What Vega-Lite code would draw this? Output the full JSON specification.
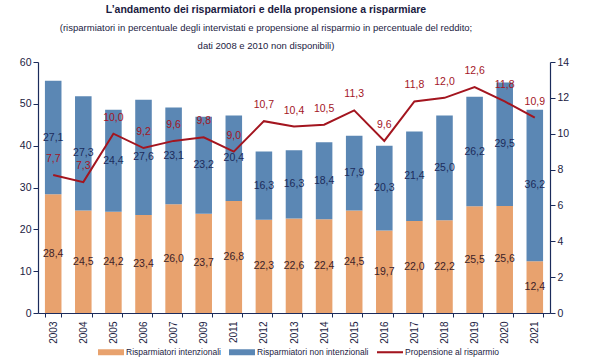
{
  "$schema": "https://vega.github.io/schema/vega-lite/v6.json",
  "width": 512,
  "height": 251,
  "autosize": {"type": "none"},
  "padding": {"left": 38, "top": 62, "right": 50, "bottom": 47},
  "background": "white",
  "title": {
    "text": "L’andamento dei risparmiatori e della propensione a risparmiare",
    "subtitle": ["(risparmiatori in percentuale degli intervistati e propensione al risparmio in percentuale del reddito;", "dati 2008 e 2010 non disponibili)"],
    "anchor": "middle",
    "frame": "group",
    "dx": -28,
    "offset": 7,
    "font": "Liberation Sans",
    "fontSize": 10.5,
    "fontWeight": "bold",
    "color": "#1b1b3f",
    "subtitleFont": "Liberation Sans",
    "subtitleFontSize": 9.5,
    "subtitleColor": "#1b1b3f",
    "subtitlePadding": 7,
    "subtitleLineHeight": 18
  },
  "datasets": {
    "barre": [
      {"anno": "2003", "serie": "Risparmiatori intenzionali", "valore": 28.4},
      {"anno": "2003", "serie": "Risparmiatori non intenzionali", "valore": 27.1},
      {"anno": "2004", "serie": "Risparmiatori intenzionali", "valore": 24.5},
      {"anno": "2004", "serie": "Risparmiatori non intenzionali", "valore": 27.3},
      {"anno": "2005", "serie": "Risparmiatori intenzionali", "valore": 24.2},
      {"anno": "2005", "serie": "Risparmiatori non intenzionali", "valore": 24.4},
      {"anno": "2006", "serie": "Risparmiatori intenzionali", "valore": 23.4},
      {"anno": "2006", "serie": "Risparmiatori non intenzionali", "valore": 27.6},
      {"anno": "2007", "serie": "Risparmiatori intenzionali", "valore": 26.0},
      {"anno": "2007", "serie": "Risparmiatori non intenzionali", "valore": 23.1},
      {"anno": "2009", "serie": "Risparmiatori intenzionali", "valore": 23.7},
      {"anno": "2009", "serie": "Risparmiatori non intenzionali", "valore": 23.2},
      {"anno": "2011", "serie": "Risparmiatori intenzionali", "valore": 26.8},
      {"anno": "2011", "serie": "Risparmiatori non intenzionali", "valore": 20.4},
      {"anno": "2012", "serie": "Risparmiatori intenzionali", "valore": 22.3},
      {"anno": "2012", "serie": "Risparmiatori non intenzionali", "valore": 16.3},
      {"anno": "2013", "serie": "Risparmiatori intenzionali", "valore": 22.6},
      {"anno": "2013", "serie": "Risparmiatori non intenzionali", "valore": 16.3},
      {"anno": "2014", "serie": "Risparmiatori intenzionali", "valore": 22.4},
      {"anno": "2014", "serie": "Risparmiatori non intenzionali", "valore": 18.4},
      {"anno": "2015", "serie": "Risparmiatori intenzionali", "valore": 24.5},
      {"anno": "2015", "serie": "Risparmiatori non intenzionali", "valore": 17.9},
      {"anno": "2016", "serie": "Risparmiatori intenzionali", "valore": 19.7},
      {"anno": "2016", "serie": "Risparmiatori non intenzionali", "valore": 20.3},
      {"anno": "2017", "serie": "Risparmiatori intenzionali", "valore": 22.0},
      {"anno": "2017", "serie": "Risparmiatori non intenzionali", "valore": 21.4},
      {"anno": "2018", "serie": "Risparmiatori intenzionali", "valore": 22.2},
      {"anno": "2018", "serie": "Risparmiatori non intenzionali", "valore": 25.0},
      {"anno": "2019", "serie": "Risparmiatori intenzionali", "valore": 25.5},
      {"anno": "2019", "serie": "Risparmiatori non intenzionali", "valore": 26.2},
      {"anno": "2020", "serie": "Risparmiatori intenzionali", "valore": 25.6},
      {"anno": "2020", "serie": "Risparmiatori non intenzionali", "valore": 29.5},
      {"anno": "2021", "serie": "Risparmiatori intenzionali", "valore": 12.4},
      {"anno": "2021", "serie": "Risparmiatori non intenzionali", "valore": 36.2}
    ],
    "linea": [
      {"anno": "2003", "propensione": 7.7},
      {"anno": "2004", "propensione": 7.3},
      {"anno": "2005", "propensione": 10.0},
      {"anno": "2006", "propensione": 9.2},
      {"anno": "2007", "propensione": 9.6},
      {"anno": "2009", "propensione": 9.8},
      {"anno": "2011", "propensione": 9.0},
      {"anno": "2012", "propensione": 10.7},
      {"anno": "2013", "propensione": 10.4},
      {"anno": "2014", "propensione": 10.5},
      {"anno": "2015", "propensione": 11.3},
      {"anno": "2016", "propensione": 9.6},
      {"anno": "2017", "propensione": 11.8},
      {"anno": "2018", "propensione": 12.0},
      {"anno": "2019", "propensione": 12.6},
      {"anno": "2020", "propensione": 11.8},
      {"anno": "2021", "propensione": 10.9}
    ]
  },
  "encoding": {
    "x": {
      "field": "anno",
      "type": "nominal",
      "sort": null,
      "scale": {"paddingInner": 0.45, "paddingOuter": 0.23},
      "axis": {
        "title": null,
        "labelAngle": -90,
        "labelFontSize": 10,
        "labelPadding": 4,
        "tickBand": "extent",
        "tickSize": 4
      }
    }
  },
  "layer": [
    {
      "data": {"name": "barre"},
      "layer": [
        {
          "mark": {"type": "bar"},
          "encoding": {
            "y": {
              "field": "valore",
              "type": "quantitative",
              "stack": "zero",
              "scale": {"domain": [0, 60]},
              "axis": {"orient": "left", "title": null, "values": [0, 10, 20, 30, 40, 50, 60], "tickSize": 5}
            },
            "order": {"field": "serie", "sort": "ascending"},
            "color": {
              "field": "serie",
              "type": "nominal",
              "scale": {
                "domain": ["Risparmiatori intenzionali", "Risparmiatori non intenzionali", "Propensione al risparmio"],
                "range": ["#E8A26E", "#5B87B4", "#A3151F"]
              },
              "legend": {
                "title": null,
                "orient": "none",
                "legendX": 60,
                "legendY": 277,
                "direction": "horizontal",
                "symbolSize": 676,
                "labelFontSize": 8.5,
                "labelOffset": 2,
                "columnPadding": 8,
                "encode": {
                  "symbols": {
                    "update": {
                      "shape": {"signal": "datum.value === 'Propensione al risparmio' ? 'M-1,-0.08H1V0.08H-1Z' : 'M-1,-0.23H1V0.23H-1Z'"},
                      "fill": {"scale": "color", "field": "value"},
                      "stroke": {"value": "transparent"},
                      "strokeWidth": {"value": 0},
                      "opacity": {"value": 1}
                    }
                  }
                }
              }
            }
          }
        },
        {
          "transform": [
            {"stack": "valore", "groupby": ["anno"], "sort": [{"field": "serie"}], "as": ["y0", "y1"]},
            {"calculate": "(datum.y0 + datum.y1) / 2", "as": "ymid"}
          ],
          "mark": {"type": "text", "fontSize": 10.5},
          "encoding": {
            "y": {"field": "ymid", "type": "quantitative"},
            "text": {"field": "valore", "type": "quantitative", "format": ".1f"},
            "color": {
              "condition": {"test": "datum.serie === 'Risparmiatori intenzionali'", "value": "#3a1d29"},
              "value": "#1b2b5b"
            }
          }
        }
      ]
    },
    {
      "data": {"name": "linea"},
      "encoding": {
        "y": {
          "field": "propensione",
          "type": "quantitative",
          "scale": {"domain": [0, 14]},
          "axis": {"orient": "right", "title": null, "values": [0, 2, 4, 6, 8, 10, 12, 14], "tickSize": 5}
        }
      },
      "layer": [
        {
          "mark": {"type": "line", "strokeWidth": 2},
          "encoding": {
            "color": {"datum": "Propensione al risparmio"}
          }
        },
        {
          "mark": {"type": "text", "fontSize": 10.5, "dy": -16, "color": "#A3151F"},
          "encoding": {
            "text": {"field": "propensione", "type": "quantitative", "format": ".1f"}
          }
        }
      ]
    }
  ],
  "resolve": {"scale": {"y": "independent"}},
  "config": {
    "locale": {"number": {"decimal": ",", "thousands": ".", "grouping": [3], "currency": ["€", ""]}},
    "font": "Liberation Sans",
    "view": {"stroke": null},
    "axis": {
      "grid": false,
      "domainColor": "#1b2b5b",
      "tickColor": "#1b2b5b",
      "labelColor": "#1b1b3f",
      "labelFont": "Liberation Sans",
      "labelFontSize": 10.5,
      "labelOverlap": false,
      "domainWidth": 1.2
    },
    "legend": {"labelFont": "Liberation Sans", "labelColor": "#1b1b3f"},
    "text": {"font": "Liberation Sans"}
  }
}
